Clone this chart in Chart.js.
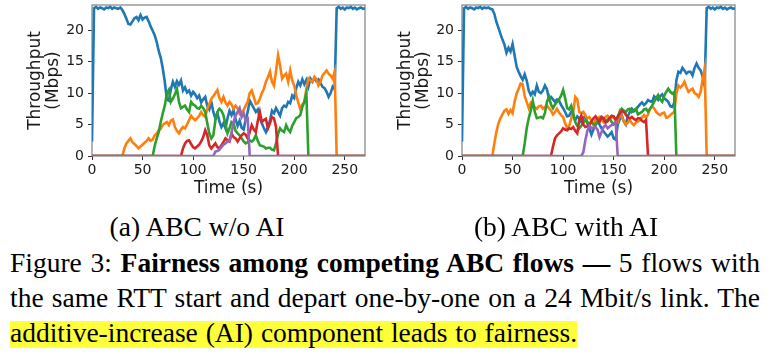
<!DOCTYPE html>
<html>
<head>
<meta charset="utf-8">
<script src="https://cdn.jsdelivr.net/npm/chart.js@4.4.1/dist/chart.umd.min.js"></script>
<style>
  html, body { margin: 0; padding: 0; background: #fff; width: 777px; height: 354px; overflow: hidden; }
  canvas { position: absolute; top: 0; }
  #ca { left: 0px; }
  #cb { left: 370px; }
  .sub { position: absolute; top: 209px; width: 300px; text-align: center; font: 27.5px/35px 'Liberation Serif', 'Times New Roman', serif; color: #000; white-space: nowrap; }
  #cap { position: absolute; left: 10px; top: 245px; width: 750px; font: 27.5px/35px 'Liberation Serif', 'Times New Roman', serif; color: #000; }
  #cap .j { text-align: justify; text-align-last: justify; }
  #cap .l3 { word-spacing: 1px; }
  #cap .hl { background: linear-gradient(to bottom, rgba(255,255,58,0) 4px, #ffff3a 4px); }
</style>
</head>
<body>
<canvas id="ca" width="380" height="200"></canvas>
<canvas id="cb" width="380" height="200"></canvas>
<div class="sub" style="left:47px">(a) ABC w/o AI</div>
<div class="sub" style="left:416px">(b) ABC with AI</div>
<div id="cap">
  <div class="j">Figure 3: <b>Fairness among competing ABC flows —</b> 5 flows with</div>
  <div class="j">the same RTT start and depart one-by-one on a 24 Mbit/s link. The</div>
  <div class="l3"><span class="hl">additive-increase (AI) component leads to fairness.</span></div>
</div>
<script>
// Time stamps (s)
const TIME = [0,2,4,6,8,10,12,14,16,18,20,22,24,26,28,30,32,34,36,38,40,42,44,46,48,50,52,54,56,58,
  60,62,64,66,68,70,72,74,76,78,80,82,84,86,88,90,92,94,96,98,100,102,104,106,108,110,112,114,116,118,
  120,122,124,126,128,130,132,134,136,138,140,142,144,146,148,150,152,154,156,158,160,162,164,166,168,170,172,174,176,178,
  180,182,184,186,188,190,192,194,196,198,200,202,204,206,208,210,212,214,216,218,220,222,224,226,228,230,232,234,236,238,
  240,242,244,246,248,250,252,254,256,258,260,262,264,266,268,270];

const X_TICKS = [0, 50, 100, 150, 200, 250];
const Y_TICKS = [0, 5, 10, 15, 20];
const FLOW_NAMES = ['Flow 1', 'Flow 2', 'Flow 3', 'Flow 4', 'Flow 5'];

// (a) ABC w/o AI  — throughput (Mbps)
const A_FLOW1 = [
  2.3,23.5,23.7,23.4,23.6,23.5,23.3,23.6,23.5,23.7,
  23.4,23.6,23.5,23.4,23.6,23.2,22.6,21.8,21.0,20.9,
  21.4,21.9,22.1,21.6,22.4,21.7,22.0,22.1,21.4,20.6,
  19.9,19.2,18.1,16.7,15.6,13.9,11.8,9.0,8.8,10.6,
  11.8,11.0,11.9,11.3,12.0,10.4,10.9,10.1,10.4,9.6,
  10.2,9.8,9.2,9.6,8.5,9.0,9.4,8.0,7.4,8.6,
  7.0,6.0,6.8,5.5,4.6,5.2,4.4,6.0,7.2,6.5,
  7.3,5.8,4.8,5.6,4.5,4.2,5.8,7.0,8.8,8.2,
  7.6,7.0,7.4,6.0,5.2,4.4,3.8,4.6,5.6,7.2,
  6.8,7.6,7.0,6.4,7.6,8.0,7.8,8.6,8.4,9.6,
  9.2,10.8,11.8,11.2,12.2,11.4,12.1,11.0,12.3,11.8,
  12.4,11.9,12.2,11.6,11.0,10.8,10.2,9.4,10.0,11.0,
  10.6,23.5,23.7,23.4,23.6,23.3,23.6,23.5,23.7,23.4,
  23.6,23.3,23.5,23.6,23.4,23.5];
const A_FLOW2 = [
  0,0,0,0,0,0,0,0,0,0,
  0,0,0,0,0,0,1.2,2.0,2.4,2.8,
  2.2,1.9,1.6,1.2,1.5,1.8,2.1,2.4,2.8,2.4,
  2.6,3.3,3.6,4.1,4.3,4.9,5.2,5.4,4.9,5.6,
  5.8,4.6,4.0,3.6,4.2,4.6,4.4,5.0,5.7,6.4,
  6.0,5.7,6.0,6.4,7.0,6.5,6.2,7.5,8.2,9.1,
  9.5,10.0,10.5,9.2,8.6,9.4,8.5,8.0,8.6,8.2,
  7.5,8.0,7.6,6.7,7.0,7.3,8.0,8.6,10.0,10.4,
  9.4,8.3,8.4,9.1,10.0,10.7,11.8,12.5,13.4,11.8,
  11.2,13.5,16.0,14.4,12.3,12.8,13.1,11.8,13.6,12.0,
  11.2,9.7,8.5,7.5,8.2,8.6,10.7,12.3,12.0,11.8,
  12.6,12.2,11.2,11.8,12.8,13.2,13.6,13.1,12.8,12.3,
  13.4,0,0,0,0,0,0,0,0,0,
  0,0,0,0,0,0];
const A_FLOW3 = [
  0,0,0,0,0,0,0,0,0,0,
  0,0,0,0,0,0,0,0,0,0,
  0,0,0,0,0,0,0,0,0,0,
  0,1.6,2.8,3.8,5.4,6.8,8.0,9.9,10.5,8.6,
  9.1,9.8,10.7,8.6,7.6,7.8,8.0,7.4,7.0,8.6,
  8.2,8.0,7.6,7.5,8.0,7.6,7.0,5.2,3.6,2.8,
  3.3,5.6,7.0,7.5,7.2,6.5,5.0,3.6,4.4,5.4,
  5.2,4.0,3.6,3.3,2.8,2.3,2.0,2.2,2.5,2.3,
  2.6,3.3,2.4,1.7,1.6,1.5,1.2,1.3,1.3,1.0,
  0.9,2.0,3.5,4.4,4.0,3.8,4.9,4.2,3.8,4.8,
  5.4,6.0,6.2,6.5,7.8,8.6,9.9,0,0,0,
  0,0,0,0,0,0,0,0,0,0,
  0,0,0,0,0,0,0,0,0,0,
  0,0,0,0,0,0];
const A_FLOW4 = [
  0,0,0,0,0,0,0,0,0,0,
  0,0,0,0,0,0,0,0,0,0,
  0,0,0,0,0,0,0,0,0,0,
  0,0,0,0,0,0,0,0,0,0,
  0,0,0,0,0,1.2,2.0,2.4,2.5,1.9,
  1.4,1.2,1.5,1.8,2.3,3.0,4.1,3.3,1.7,1.2,
  1.6,2.0,1.4,1.2,1.7,2.2,2.8,2.5,2.3,3.6,
  3.0,2.8,2.3,2.8,3.3,3.6,3.4,2.8,3.8,4.9,
  4.2,3.8,5.6,7.0,5.4,5.7,5.9,4.4,5.2,6.2,
  6.0,4.6,0,0,0,0,0,0,0,0,
  0,0,0,0,0,0,0,0,0,0,
  0,0,0,0,0,0,0,0,0,0,
  0,0,0,0,0,0,0,0,0,0,
  0,0,0,0,0,0];
const A_FLOW5 = [
  0,0,0,0,0,0,0,0,0,0,
  0,0,0,0,0,0,0,0,0,0,
  0,0,0,0,0,0,0,0,0,0,
  0,0,0,0,0,0,0,0,0,0,
  0,0,0,0,0,0,0,0,0,0,
  0,0,0,0,0,0,0,0,0,0,
  0,0.7,0.8,1.0,1.4,1.8,2.0,2.3,2.4,3.6,
  5.4,6.4,7.0,7.6,6.2,6.8,5.6,5.9,0,0,
  0,0,0,0,0,0,0,0,0,0,
  0,0,0,0,0,0,0,0,0,0,
  0,0,0,0,0,0,0,0,0,0,
  0,0,0,0,0,0,0,0,0,0,
  0,0,0,0,0,0,0,0,0,0,
  0,0,0,0,0,0];

// (b) ABC with AI — throughput (Mbps)
const B_FLOW1 = [
  2.3,23.5,23.7,23.4,23.6,23.5,23.3,23.6,23.5,23.7,
  23.4,23.6,23.5,23.6,23.4,23.3,22.6,21.3,20.4,19.4,
  18.5,17.7,16.4,17.2,16.6,17.8,16.0,14.2,13.4,12.7,
  12.1,13.0,12.0,10.4,9.7,10.2,9.8,11.2,10.2,10.0,
  10.4,11.2,10.6,9.1,9.4,9.0,8.6,9.0,8.8,8.1,
  7.6,7.0,6.3,6.4,7.0,6.3,5.7,6.3,6.0,5.4,
  6.0,6.4,5.2,4.4,3.4,4.2,5.0,5.5,5.0,4.4,
  3.9,3.5,3.1,3.4,3.8,2.8,2.6,5.0,5.8,6.5,
  5.5,5.0,6.3,7.0,7.5,7.1,7.4,7.8,8.2,8.5,
  8.1,8.4,8.9,8.7,8.6,9.5,9.2,8.9,9.5,9.8,
  9.2,8.9,8.6,7.9,7.8,8.5,12.0,13.4,13.2,14.0,
  13.6,13.1,13.4,13.4,12.8,14.0,14.7,14.0,13.6,12.6,
  11.2,23.5,23.7,23.4,23.6,23.3,23.6,23.5,23.7,23.4,
  23.6,23.3,23.5,23.6,23.4,23.5];
const B_FLOW2 = [
  0,0,0,0,0,0,0,0,0,0,
  0,0,0,0,0,0,2.0,3.8,5.2,6.0,
  6.6,7.2,7.4,6.7,7.3,6.8,8.6,9.9,10.7,11.5,
  11.4,9.5,8.6,7.6,8.4,8.0,7.8,7.5,7.9,8.0,
  7.5,7.8,8.0,7.6,7.2,6.6,7.0,7.5,6.9,6.5,
  6.2,5.2,4.4,4.8,5.9,7.0,9.4,9.0,7.0,6.8,
  7.0,6.4,6.0,6.2,5.6,4.9,5.7,6.0,6.2,5.8,
  5.4,6.2,6.4,6.0,6.1,6.2,5.5,5.4,7.0,6.2,
  5.6,5.0,5.3,5.7,5.2,4.9,5.3,5.5,5.7,6.1,
  6.5,6.1,6.6,7.5,7.9,7.6,7.0,6.7,6.5,6.8,
  6.9,6.1,6.2,6.5,6.8,7.0,9.9,11.2,10.9,11.2,
  11.8,10.9,10.2,10.5,10.7,10.0,9.8,9.4,10.2,12.2,
  13.9,0,0,0,0,0,0,0,0,0,
  0,0,0,0,0,0];
const B_FLOW3 = [
  0,0,0,0,0,0,0,0,0,0,
  0,0,0,0,0,0,0,0,0,0,
  0,0,0,0,0,0,0,0,0,0,
  0,2.0,4.4,6.0,7.2,8.8,7.0,6.0,6.1,6.2,
  6.0,6.8,8.6,9.4,8.2,7.6,8.2,8.6,9.0,9.6,
  10.5,9.2,7.6,7.4,8.0,6.8,5.4,4.8,4.4,4.8,
  5.3,5.7,5.4,5.2,5.4,5.1,4.9,5.4,5.8,6.2,
  5.8,5.4,5.8,6.0,5.4,5.0,5.2,6.3,7.0,7.5,
  7.2,7.0,7.4,7.5,7.0,7.3,7.5,6.6,6.8,7.0,
  7.4,7.5,7.1,7.5,8.0,8.6,9.2,9.7,9.0,8.6,
  9.6,10.2,10.7,10.2,9.9,10.2,0,0,0,0,
  0,0,0,0,0,0,0,0,0,0,
  0,0,0,0,0,0,0,0,0,0,
  0,0,0,0,0,0];
const B_FLOW4 = [
  0,0,0,0,0,0,0,0,0,0,
  0,0,0,0,0,0,0,0,0,0,
  0,0,0,0,0,0,0,0,0,0,
  0,0,0,0,0,0,0,0,0,0,
  0,0,0,0,0,1.5,2.8,3.3,3.6,3.9,
  4.4,4.2,4.1,4.4,4.3,4.6,4.0,3.6,5.8,6.4,
  5.0,4.6,4.7,4.9,5.5,6.0,6.3,5.8,5.4,6.2,
  6.0,5.3,5.5,6.0,6.4,6.3,5.8,6.2,6.7,7.2,
  7.0,6.6,6.1,6.0,6.2,5.9,5.7,6.0,6.0,5.6,
  5.4,5.7,0,0,0,0,0,0,0,0,
  0,0,0,0,0,0,0,0,0,0,
  0,0,0,0,0,0,0,0,0,0,
  0,0,0,0,0,0,0,0,0,0,
  0,0,0,0,0,0];
const B_FLOW5 = [
  0,0,0,0,0,0,0,0,0,0,
  0,0,0,0,0,0,0,0,0,0,
  0,0,0,0,0,0,0,0,0,0,
  0,0,0,0,0,0,0,0,0,0,
  0,0,0,0,0,0,0,0,0,0,
  0,0,0,0,0,0,0,0,0,0,
  0.6,2.5,4.0,4.8,4.4,4.5,4.6,4.2,3.0,3.8,
  4.6,4.9,4.4,4.7,4.9,5.2,5.4,0,0,0,
  0,0,0,0,0,0,0,0,0,0,
  0,0,0,0,0,0,0,0,0,0,
  0,0,0,0,0,0,0,0,0,0,
  0,0,0,0,0,0,0,0,0,0,
  0,0,0,0,0,0,0,0,0,0,
  0,0,0,0,0,0];

const COLORS = ['#1f77b4', '#ff7f0e', '#2ca02c', '#d62728', '#9467bd'];

const framePlugin = {
  id: 'frame',
  beforeDatasetsDraw(chart) {
    const { ctx, chartArea: a } = chart;
    ctx.save();
    ctx.strokeStyle = '#808080';
    ctx.lineWidth = 1.2;
    ctx.strokeRect(a.left, a.top, a.right - a.left, a.bottom - a.top);
    ctx.restore();
  }
};

function makeChart(id, seriesList) {
  const datasets = seriesList.map((vals, i) => ({
    label: FLOW_NAMES[i],
    data: TIME.map((t, j) => ({ x: t, y: vals[j] })),
    borderColor: COLORS[i],
    backgroundColor: COLORS[i],
    borderWidth: 2.6,
    pointRadius: 0,
    tension: 0,
    fill: false,
    order: seriesList.length - i
  }));
  const tickFont = { family: 'DejaVu Sans', size: 14 };
  const titleFont = { family: 'DejaVu Sans', size: 17, lineHeight: 1.1 };
  return new Chart(document.getElementById(id), {
    type: 'line',
    data: { datasets },
    options: {
      responsive: false,
      animation: false,
      devicePixelRatio: 1,
      layout: { padding: { left: 0, right: 15, top: 5, bottom: 0 } },
      plugins: { legend: { display: false }, tooltip: { enabled: false } },
      scales: {
        x: {
          type: 'linear', min: 0, max: 270,
          afterBuildTicks: s => { s.ticks = X_TICKS.map(v => ({ value: v })); },
          ticks: { font: tickFont, color: '#1a1a1a', padding: 2, maxRotation: 0, autoSkip: false },
          grid: { drawOnChartArea: false, drawTicks: true, tickLength: 4, color: '#333' },
          border: { display: false },
          title: { display: true, text: 'Time (s)', font: { family: 'DejaVu Sans', size: 17, lineHeight: 1.2 }, color: '#1a1a1a', padding: { top: 0, bottom: 1 } },
          afterFit: s => { s.height = 44; s.paddingLeft = 0; s.paddingRight = 0; }
        },
        y: {
          type: 'linear', min: 0, max: 24,
          afterBuildTicks: s => { s.ticks = Y_TICKS.map(v => ({ value: v })); },
          ticks: { font: tickFont, color: '#1a1a1a', padding: 4, autoSkip: false },
          grid: { drawOnChartArea: false, drawTicks: true, tickLength: 4, color: '#333' },
          border: { display: false },
          title: { display: true, text: ['Throughput', '(Mbps)'], font: titleFont, color: '#1a1a1a', padding: { top: 26, bottom: 0 } },
          afterFit: s => { s.width = 92; s.paddingTop = 0; s.paddingBottom = 0; }
        }
      }
    },
    plugins: [framePlugin]
  });
}

makeChart('ca', [A_FLOW1, A_FLOW2, A_FLOW3, A_FLOW4, A_FLOW5]);
makeChart('cb', [B_FLOW1, B_FLOW2, B_FLOW3, B_FLOW4, B_FLOW5]);
</script>
</body>
</html>
